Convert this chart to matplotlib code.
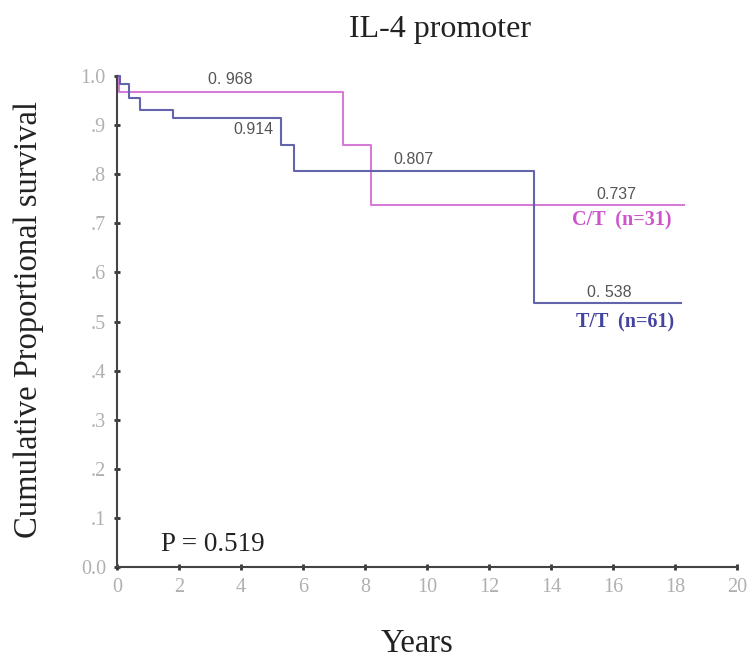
import matplotlib.pyplot as plt

# =========================================================
# Kaplan-Meier step data
# =========================================================

ct_times = [0.0, 0.05, 7.3, 8.2, 18.3]
ct_surv = [1.0, 0.968, 0.859, 0.737, 0.737]

tt_times = [0.0, 0.1, 0.4, 0.75, 1.8, 5.3, 5.7, 13.45, 18.2]
tt_surv = [1.0, 0.984, 0.955, 0.931, 0.914, 0.859, 0.807, 0.538, 0.538]

x_ticks = list(range(0, 21, 2))
y_ticks = [0.0, 0.1, 0.2, 0.3, 0.4, 0.5, 0.6, 0.7, 0.8, 0.9, 1.0]
y_tick_labels = ["0.0", ".1", ".2", ".3", ".4", ".5", ".6", ".7", ".8", ".9", "1.0"]

# value labels: (x, y, text)
value_labels = [
    (3.65, 0.978, "0. 968"),
    (4.4, 0.876, "0.914"),
    (9.55, 0.815, "0.807"),
    (16.1, 0.743, "0.737"),
    (15.9, 0.544, "0. 538"),
]

serif = ["Liberation Serif", "DejaVu Serif"]
ct_color = "#d47cd6"
tt_color = "#6464ac"

fig = plt.figure(figsize=(7.55, 6.63), dpi=100)
ax = fig.add_axes([0.155, 0.145, 0.821, 0.740])

ax.step(ct_times, ct_surv, where="post", color=ct_color, lw=1.5, clip_on=False)
ax.step(tt_times, tt_surv, where="post", color=tt_color, lw=1.5, clip_on=False)

for x, y, t in value_labels:
    ax.text(x, y, t, ha="center", va="bottom", fontsize=11.5,
            family="Liberation Sans", color="#555555")

ax.text(16.3, 0.707, "C/T  (n=31)", ha="center", va="center", fontsize=14.5,
        family=serif, fontweight="bold", color="#cc55cc")
ax.text(16.4, 0.499, "T/T  (n=61)", ha="center", va="center", fontsize=14.5,
        family=serif, fontweight="bold", color="#4444a0")
ax.text(3.1, 0.045, "P = 0.519", ha="center", va="center", fontsize=19.5,
        family=serif, color="#222222")

ax.set_xlim(0, 20)
ax.set_ylim(0, 1.0)
ax.set_xticks(x_ticks)
ax.set_xticklabels([str(v) for v in x_ticks])
ax.set_yticks(y_ticks)
ax.set_yticklabels(y_tick_labels)

for lab in ax.get_xticklabels() + ax.get_yticklabels():
    lab.set_family(serif)
    lab.set_fontsize(14.5)
    lab.set_color("#b0b0b0")

ax.tick_params(direction="inout", length=4, width=2, color="#333333", pad=6)

for side in ["top", "right"]:
    ax.spines[side].set_visible(False)
for side in ["left", "bottom"]:
    ax.spines[side].set_color("#444444")
    ax.spines[side].set_linewidth(1.5)

fig.text(440 / 755, 1 - 37 / 663, "IL-4 promoter", family=serif, fontsize=23,
         color="#222222", ha="center", va="baseline")
fig.text(29 / 755, 1 - 320 / 663, "Cumulative Proportional survival",
         family=serif, fontsize=23.5, color="#222222", rotation=90,
         ha="center", va="center")
fig.text(417 / 755, 1 - 644 / 663, "Years", family=serif, fontsize=23.5,
         color="#222222", ha="center", va="center")

fig.savefig("out.png", dpi=100)
